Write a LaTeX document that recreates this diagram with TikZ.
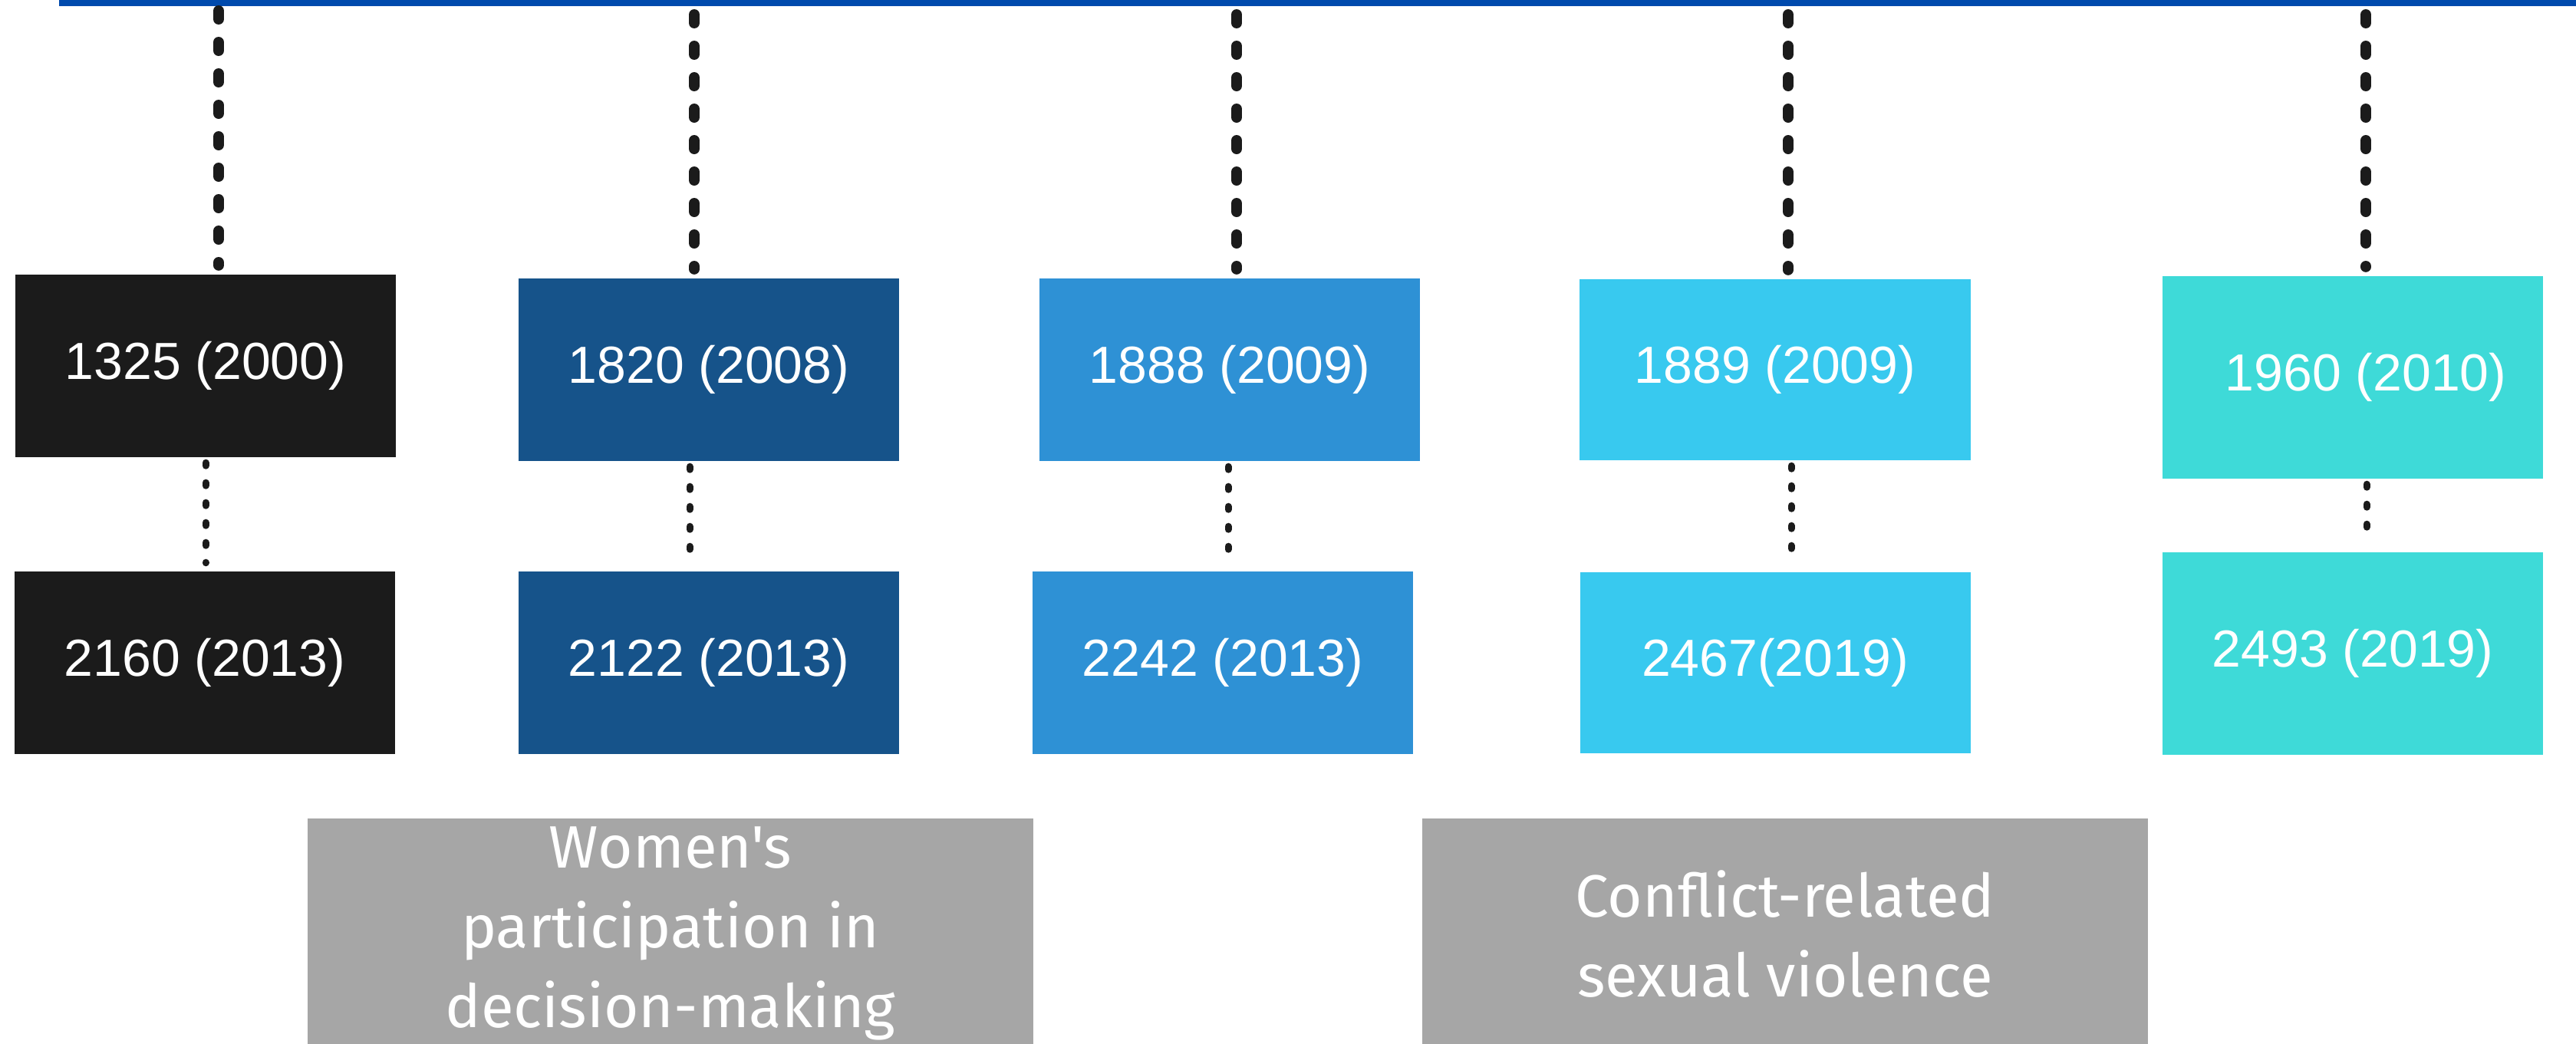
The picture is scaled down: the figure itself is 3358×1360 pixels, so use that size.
\documentclass[tikz,border=0pt]{standalone}
\usepackage{fontspec}
\setmainfont{Liberation Sans}
\newfontfamily\themefont{Fira Sans}
\usetikzlibrary{positioning}

\definecolor{lineblue}{RGB}{0,74,173}
\definecolor{resblack}{RGB}{27,27,27}
\definecolor{resnavy}{RGB}{22,83,138}
\definecolor{resblue}{RGB}{46,145,213}
\definecolor{ressky}{RGB}{56,201,239}
\definecolor{resteal}{RGB}{62,218,216}
\definecolor{themegrey}{RGB}{166,166,166}

\begin{document}
\begin{tikzpicture}[x=1pt,y=-1pt,
    res/.style={rectangle,inner sep=0pt,minimum width=496pt,minimum height=238pt,
        text=white,font=\fontsize{68}{80}\selectfont},
    theme/.style={rectangle,fill=themegrey,inner sep=0pt,minimum width=946pt,
        minimum height=300pt,text=white,align=center,anchor=north,
        font=\themefont\fontsize{78}{104}\selectfont},
    link/.style={draw=resblack,line width=14pt,line cap=round,
        dash pattern=on 11pt off 30pt,shorten >=12pt},
    sublink/.style={draw=resblack,line width=9pt,line cap=round,
        dash pattern=on 4pt off 22pt,shorten <=7pt,shorten >=11pt}]

  \useasboundingbox (0,0) rectangle (3358,1360);

  \coordinate (axisstart) at (77,4);
  \coordinate (axisend) at (3358,4);
  \draw[lineblue,line width=8pt] (axisstart) -- (axisend);

  \node[res,fill=resblack] (r1325) at (268,477) {1325 (2000)};
  \node[res,fill=resnavy]  (r1820) at (924,482) {1820 (2008)};
  \node[res,fill=resblue]  (r1888) at (1603,482) {1888 (2009)};
  \node[res,fill=ressky,minimum width=510pt,minimum height=236pt] (r1889) at (2314,482) {1889 (2009)};
  \node[res,fill=resteal,minimum height=264pt] (r1960) at (3067,492) {\hspace*{34pt}1960 (2010)};

  \node[res,fill=resblack] (r2160) at (267,864) {2160 (2013)};
  \node[res,fill=resnavy]  (r2122) at (924,864) {2122 (2013)};
  \node[res,fill=resblue]  (r2242) at (1594,864) {2242 (2013)};
  \node[res,fill=ressky,minimum width=509pt,minimum height=236pt] (r2467) at (2314,864) {2467(2019)};
  \node[res,fill=resteal,minimum height=264pt] (r2493) at (3067,852) {2493 (2019)};

  \node[theme] (wps) at (874,1067) {Women's\\participation in\\decision-making};
  \node[theme] (crsv) at (2327,1067) {Conflict-related\\sexual violence};

  \coordinate (t1) at (285,14);
  \coordinate (t2) at (905,19);
  \coordinate (t3) at (1612,19);
  \coordinate (t4) at (2331,19);
  \coordinate (t5) at (3084,19);

  \draw[link] (t1) -- (t1 |- r1325.north);
  \draw[link] (t2) -- (t2 |- r1820.north);
  \draw[link] (t3) -- (t3 |- r1888.north);
  \draw[link] (t4) -- (t4 |- r1889.north);
  \draw[link] (t5) -- (t5 |- r1960.north);

  \draw[sublink] (r1325.south) -- (r1325.south |- r2160.north);
  \draw[sublink] ([xshift=-25pt]r1820.south) -- ([xshift=-25pt]r1820.south |- r2122.north);
  \draw[sublink] ([xshift=-2pt]r1888.south) -- ([xshift=-2pt]r1888.south |- r2242.north);
  \draw[sublink] ([xshift=21pt]r1889.south) -- ([xshift=21pt]r1889.south |- r2467.north);
  \draw[sublink] ([xshift=18pt]r1960.south) -- ([xshift=18pt]r1960.south |- r2493.north);

\end{tikzpicture}
\end{document}
